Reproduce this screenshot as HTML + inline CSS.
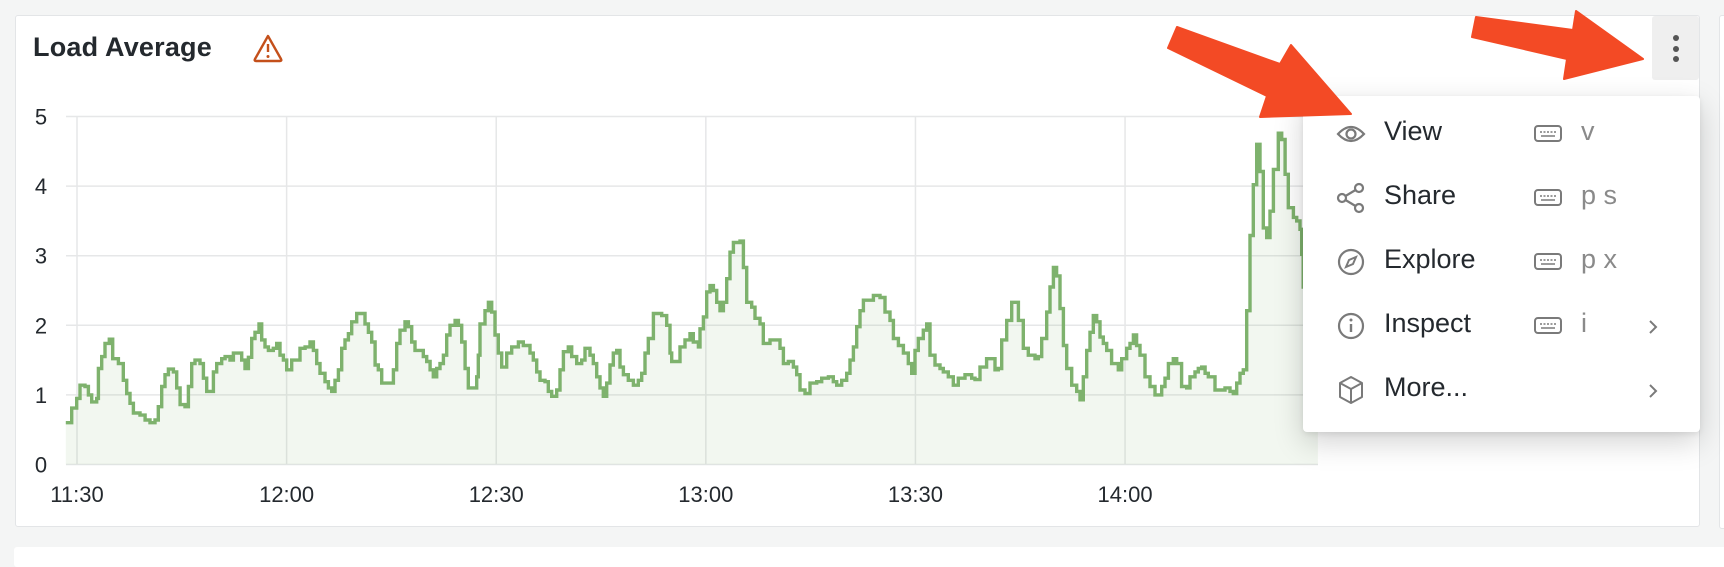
<!DOCTYPE html>
<html><head><meta charset="utf-8"><style>
html,body{margin:0;padding:0;width:1724px;height:556px;overflow:hidden;background:#f4f5f5;font-family:"Liberation Sans",sans-serif;}
.panel{position:absolute;left:15px;top:15px;width:1685px;height:512px;background:#fff;border:1px solid #e3e5e7;border-radius:3px;box-sizing:border-box;}
.panel2{position:absolute;left:1719px;top:15px;width:20px;height:512px;background:#fff;border:1px solid #e3e5e7;border-radius:3px;}
.panel3{position:absolute;left:14px;top:547px;width:1720px;height:20px;background:#fff;border-radius:3px;}
.title{position:absolute;left:33px;top:32px;font-size:27px;font-weight:bold;color:#24292e;letter-spacing:0.2px;}
.kebab{position:absolute;left:1652px;top:16px;width:47px;height:64px;background:#efefef;border-radius:3px;}
.kebab i{position:absolute;left:21px;width:6px;height:6px;border-radius:3px;background:#555;}
.menu{position:absolute;left:1303px;top:96px;width:397px;height:336px;background:#fff;border-radius:4px;box-shadow:0 10px 30px rgba(0,0,0,0.18),0 2px 6px rgba(0,0,0,0.08);}
.item{position:absolute;left:0;width:397px;height:60px;}
.item .lbl{position:absolute;left:81px;top:12px;font-size:27px;color:#24292e;}
.item .key{position:absolute;left:278px;top:12px;font-size:27px;color:#8a8a8a;}
.item svg{position:absolute;}
</style></head><body>
<div class="panel"></div>
<div class="panel2"></div>
<div class="panel3"></div>
<div class="title">Load Average</div>
<svg style="position:absolute;left:252px;top:33px" width="32" height="30">
<path d="M16 3 L29 26 Q30 28 28 28 L4 28 Q2 28 3 26 Z" fill="none" stroke="#c4501b" stroke-width="2.4" stroke-linejoin="round"/>
<line x1="16" y1="11" x2="16" y2="19" stroke="#c4501b" stroke-width="2.4"/><circle cx="16" cy="23.5" r="1.5" fill="#c4501b"/></svg>

<svg id="chart" style="position:absolute;left:0;top:0" width="1724" height="556"></svg>

<div class="kebab"><i style="top:19px"></i><i style="top:30px"></i><i style="top:40px"></i></div>

<div class="menu">
 <div class="item" style="top:8px">
  <svg style="left:32px;top:16px" width="32" height="28"><path d="M3 14 Q16 0 29 14 Q16 28 3 14 Z" fill="none" stroke="#7a7a7a" stroke-width="2.2"/><circle cx="16" cy="14" r="4.5" fill="none" stroke="#7a7a7a" stroke-width="2.2"/></svg>
  <span class="lbl">View</span>
  <svg style="left:230px;top:20px" width="30" height="20"><rect x="2" y="2" width="26" height="15" rx="3" fill="none" stroke="#7a7a7a" stroke-width="2"/><line x1="7" y1="8" x2="23" y2="8" stroke="#7a7a7a" stroke-width="1.5" stroke-dasharray="2 1.5"/><line x1="8" y1="12" x2="22" y2="12" stroke="#7a7a7a" stroke-width="1.5"/></svg>
  <span class="key">v</span>
 </div>
 <div class="item" style="top:72px">
  <svg style="left:32px;top:14px" width="32" height="32"><circle cx="7" cy="16" r="4" fill="none" stroke="#7a7a7a" stroke-width="2.2"/><circle cx="24" cy="6" r="4" fill="none" stroke="#7a7a7a" stroke-width="2.2"/><circle cx="24" cy="26" r="4" fill="none" stroke="#7a7a7a" stroke-width="2.2"/><line x1="10.5" y1="14" x2="20.5" y2="8" stroke="#7a7a7a" stroke-width="2.2"/><line x1="10.5" y1="18" x2="20.5" y2="24" stroke="#7a7a7a" stroke-width="2.2"/></svg>
  <span class="lbl">Share</span>
  <svg style="left:230px;top:20px" width="30" height="20"><rect x="2" y="2" width="26" height="15" rx="3" fill="none" stroke="#7a7a7a" stroke-width="2"/><line x1="7" y1="8" x2="23" y2="8" stroke="#7a7a7a" stroke-width="1.5" stroke-dasharray="2 1.5"/><line x1="8" y1="12" x2="22" y2="12" stroke="#7a7a7a" stroke-width="1.5"/></svg>
  <span class="key">p s</span>
 </div>
 <div class="item" style="top:136px">
  <svg style="left:32px;top:14px" width="32" height="32"><circle cx="16" cy="16" r="12" fill="none" stroke="#7a7a7a" stroke-width="2.2"/><path d="M21 11 L18 18 L11 21 L14 14 Z" fill="none" stroke="#7a7a7a" stroke-width="2"/></svg>
  <span class="lbl">Explore</span>
  <svg style="left:230px;top:20px" width="30" height="20"><rect x="2" y="2" width="26" height="15" rx="3" fill="none" stroke="#7a7a7a" stroke-width="2"/><line x1="7" y1="8" x2="23" y2="8" stroke="#7a7a7a" stroke-width="1.5" stroke-dasharray="2 1.5"/><line x1="8" y1="12" x2="22" y2="12" stroke="#7a7a7a" stroke-width="1.5"/></svg>
  <span class="key">p x</span>
 </div>
 <div class="item" style="top:200px">
  <svg style="left:32px;top:14px" width="32" height="32"><circle cx="16" cy="16" r="12" fill="none" stroke="#7a7a7a" stroke-width="2.2"/><line x1="16" y1="14" x2="16" y2="22" stroke="#7a7a7a" stroke-width="2.4"/><circle cx="16" cy="10" r="1.5" fill="#7a7a7a"/></svg>
  <span class="lbl">Inspect</span>
  <svg style="left:230px;top:20px" width="30" height="20"><rect x="2" y="2" width="26" height="15" rx="3" fill="none" stroke="#7a7a7a" stroke-width="2"/><line x1="7" y1="8" x2="23" y2="8" stroke="#7a7a7a" stroke-width="1.5" stroke-dasharray="2 1.5"/><line x1="8" y1="12" x2="22" y2="12" stroke="#7a7a7a" stroke-width="1.5"/></svg>
  <span class="key">i</span>
  <svg style="left:343px;top:22px" width="14" height="18"><path d="M4 3 L10 9 L4 15" fill="none" stroke="#7a7a7a" stroke-width="2"/></svg>
 </div>
 <div class="item" style="top:264px">
  <svg style="left:32px;top:14px" width="32" height="32"><path d="M16 3 L27 9 L27 23 L16 29 L5 23 L5 9 Z M5 9 L16 15 L27 9 M16 15 L16 29" fill="none" stroke="#7a7a7a" stroke-width="2" stroke-linejoin="round"/></svg>
  <span class="lbl">More...</span>
  <svg style="left:343px;top:22px" width="14" height="18"><path d="M4 3 L10 9 L4 15" fill="none" stroke="#7a7a7a" stroke-width="2"/></svg>
 </div>
</div>

<svg style="position:absolute;left:0;top:0" width="1724" height="556">
<polygon points="1177,27 1280,64 1291,45 1351,114 1260,117 1267,96 1168,48" fill="#f34a25" stroke="#f34a25" stroke-width="2" stroke-linejoin="round"/>
<polygon points="1476,17 1573,30 1576,11 1643,59 1564,79 1567,59 1472,37" fill="#f34a25" stroke="#f34a25" stroke-width="2" stroke-linejoin="round"/>
</svg>

<script>
const times=[-1.6,-0.76,-0.04,0.43,1.15,1.63,2.1,2.82,3.06,3.53,4.01,4.63,5.11,5.92,6.63,7.11,7.59,8.07,9.02,9.74,10.45,11.17,11.64,12.12,12.6,13.08,13.79,14.27,14.75,15.46,15.94,16.42,16.89,17.61,18.09,18.56,19.52,19.99,20.71,21.19,21.9,22.38,23.57,24.05,24.53,25.0,25.48,26.05,26.43,26.91,27.39,28.1,28.58,29.06,29.54,30.01,30.73,31.92,32.64,33.35,33.83,34.31,34.78,35.5,35.98,36.45,36.93,37.41,37.88,38.36,38.84,39.32,40.03,41.22,41.7,42.18,42.66,43.13,43.61,44.8,45.28,45.76,46.23,46.95,47.43,47.9,48.38,49.57,50.05,50.53,51.0,51.48,51.96,52.44,52.91,53.39,54.11,54.58,55.06,55.54,56.01,57.21,57.44,57.68,58.4,58.88,59.35,59.83,60.3,60.78,61.5,62.21,63.17,63.88,64.84,65.31,65.79,66.27,66.98,67.46,67.94,68.65,69.13,69.61,70.32,70.8,71.52,72.23,72.71,73.42,73.9,74.38,74.86,75.33,75.81,76.29,76.76,77.24,77.72,78.2,78.91,79.63,80.34,80.82,81.3,81.77,82.49,83.68,84.4,84.87,85.11,85.83,86.3,87.02,87.74,88.21,88.93,89.17,89.65,90.12,90.6,91.08,91.55,92.03,92.51,92.99,93.46,93.94,94.89,95.37,95.85,96.56,97.04,97.76,98.23,99.19,100.14,100.62,101.1,101.81,102.53,103.0,103.48,104.2,104.91,105.87,106.58,107.54,108.25,108.73,109.45,110.16,110.64,111.12,111.59,112.07,112.55,113.26,113.98,114.93,115.65,116.36,116.84,117.56,118.27,118.98,119.46,119.94,120.41,121.13,121.61,122.08,122.8,123.51,123.99,124.71,125.42,126.14,127.09,128.05,128.52,129.24,130.19,130.67,131.39,131.86,132.34,133.06,133.77,134.25,134.73,135.44,136.16,137.11,137.59,138.07,138.78,139.26,139.74,140.21,140.69,141.17,141.65,142.36,143.08,143.55,144.03,144.51,144.98,145.46,145.94,146.41,146.89,147.37,148.08,148.56,149.04,149.52,150.23,150.71,151.19,151.66,152.14,152.86,153.57,154.29,154.77,155.24,155.72,156.2,156.91,157.39,158.1,158.82,159.3,160.01,160.49,160.97,161.45,161.92,162.88,163.59,164.31,165.02,165.5,165.98,166.45,166.93,167.41,167.89,168.36,168.84,169.32,169.79,170.27,170.75,171.23,171.94,172.42,172.9,173.37,174.09,174.57,175.04,175.28,175.5];
const loadValues=[0.6,0.81,0.95,1.14,1.12,1.0,0.9,0.95,1.38,1.55,1.74,1.8,1.52,1.45,1.21,1.02,0.88,0.74,0.71,0.64,0.6,0.64,0.83,1.12,1.29,1.37,1.33,1.1,0.86,0.83,1.12,1.45,1.5,1.45,1.24,1.05,1.33,1.45,1.52,1.55,1.5,1.6,1.5,1.38,1.54,1.81,1.9,2.02,1.79,1.69,1.64,1.67,1.74,1.57,1.5,1.36,1.5,1.67,1.69,1.76,1.64,1.45,1.31,1.19,1.1,1.05,1.21,1.36,1.67,1.79,1.88,2.05,2.17,2.02,1.9,1.76,1.43,1.36,1.17,1.17,1.36,1.74,1.93,2.05,1.98,1.76,1.64,1.55,1.48,1.36,1.26,1.38,1.45,1.57,1.86,2.0,2.07,2.0,1.76,1.38,1.1,1.26,1.57,2.02,2.21,2.33,2.19,1.86,1.6,1.4,1.6,1.69,1.76,1.71,1.6,1.5,1.33,1.21,1.19,1.05,0.98,1.07,1.36,1.62,1.69,1.55,1.45,1.5,1.67,1.57,1.45,1.26,1.1,0.98,1.17,1.43,1.6,1.64,1.4,1.29,1.21,1.14,1.21,1.31,1.6,1.81,2.17,2.14,2.0,1.6,1.48,1.48,1.69,1.79,1.88,1.76,1.69,1.95,2.12,2.48,2.57,2.5,2.33,2.21,2.33,2.67,3.05,3.19,3.21,2.83,2.33,2.26,2.1,2.02,1.74,1.79,1.79,1.67,1.45,1.48,1.4,1.29,1.07,1.02,1.17,1.19,1.24,1.26,1.19,1.14,1.21,1.31,1.5,1.69,1.98,2.21,2.36,2.36,2.43,2.4,2.19,2.07,1.81,1.71,1.6,1.45,1.31,1.64,1.81,1.93,2.02,1.57,1.43,1.38,1.33,1.26,1.14,1.24,1.29,1.24,1.22,1.4,1.52,1.52,1.36,1.38,1.79,2.07,2.33,2.33,2.07,1.67,1.57,1.52,1.55,1.81,2.19,2.55,2.83,2.71,2.24,1.71,1.38,1.14,1.05,0.93,1.26,1.64,1.9,2.14,2.05,1.83,1.74,1.64,1.45,1.45,1.36,1.52,1.67,1.74,1.86,1.71,1.57,1.26,1.12,1.0,1.0,1.12,1.24,1.45,1.52,1.45,1.12,1.1,1.26,1.33,1.38,1.4,1.31,1.26,1.07,1.07,1.1,1.05,1.02,1.17,1.31,1.36,2.21,3.29,4.02,4.6,4.21,3.4,3.26,3.64,4.24,4.76,4.67,4.17,3.69,3.55,3.5,3.38,3.02,2.55,2.3];
const yTicks=[0,1,2,3,4,5];
const xTickMinutes=[0,30,60,90,120,150];
const xTickLabels=["11:30","12:00","12:30","13:00","13:30","14:00"];
const endMinute=177.6;

const NS="http://www.w3.org/2000/svg";
const svg=document.getElementById('chart');
const X0=77,PXM=6.987,Y0=464.5,PXV=69.6,LEFT=66,RIGHT=1318,TOP=116;
function xs(m){return X0+m*PXM;}
function ys(v){return Y0-v*PXV;}
function mk(tag,attrs){const e=document.createElementNS(NS,tag);for(const k in attrs)e.setAttribute(k,attrs[k]);svg.appendChild(e);return e;}

yTicks.forEach(v=>{
  const l=mk('line',{x1:LEFT,x2:RIGHT,y1:ys(v),y2:ys(v),stroke:'#e6e7e8','stroke-width':1.5});
  
  
  const t=mk('text',{x:41,y:ys(v)+8,'text-anchor':'middle','font-size':22,fill:'#24292e','font-family':'Liberation Sans, sans-serif'});
  t.textContent=v;
  
  
});
xTickMinutes.forEach((m,i)=>{
  const l=mk('line',{x1:xs(m),x2:xs(m),y1:TOP,y2:Y0,stroke:'#e6e7e8','stroke-width':1.5});
  
  
  const t=mk('text',{x:xs(m),y:502,'text-anchor':'middle','font-size':22,fill:'#24292e','font-family':'Liberation Sans, sans-serif'});
  t.textContent=xTickLabels[i];
  
  
});
let d='M'+xs(times[0]).toFixed(1)+','+ys(loadValues[0]).toFixed(1);
for(let i=1;i<times.length;i++){d+=' H'+xs(times[i]).toFixed(1)+' V'+ys(loadValues[i]).toFixed(1);}
d+=' H'+xs(endMinute).toFixed(1);
const area=mk('path',{d:d+' V'+Y0+' H'+xs(times[0]).toFixed(1)+' Z',fill:'#7eb26d','fill-opacity':0.1,stroke:'none'});


const line=mk('path',{d:d,fill:'none',stroke:'#7eb26d','stroke-width':3.4,'stroke-linejoin':'miter'});


</script>
</body></html>
